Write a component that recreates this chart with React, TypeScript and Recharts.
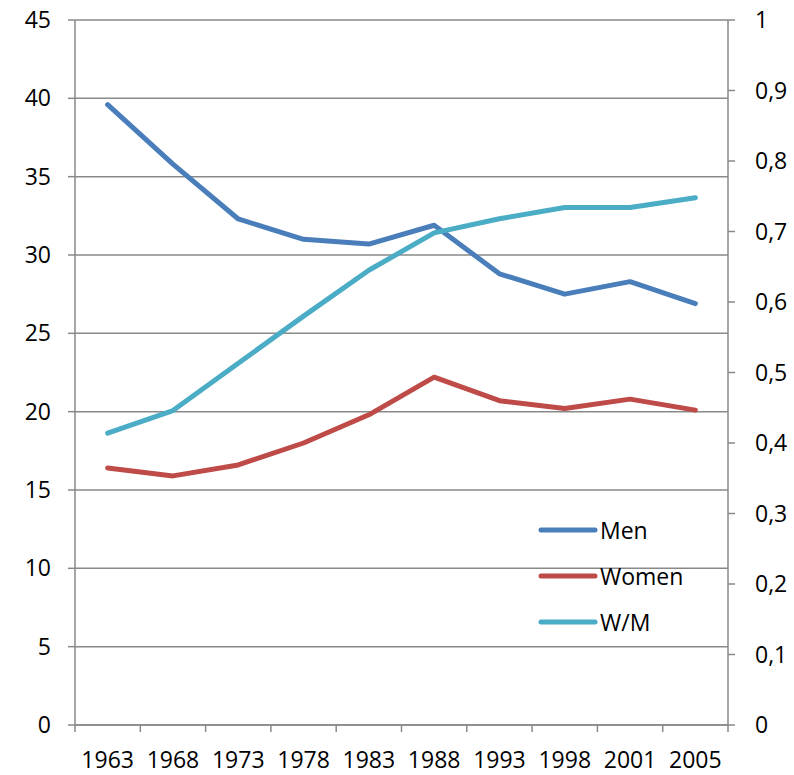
import { ComposedChart, Line, XAxis, YAxis, CartesianGrid } from "recharts"

const years = ["1963", "1968", "1973", "1978", "1983", "1988", "1993", "1998", "2001", "2005"]
const men = [39.6, 35.8, 32.3, 31.0, 30.7, 31.9, 28.8, 27.5, 28.3, 26.9]
const women = [16.4, 15.9, 16.6, 18.0, 19.8, 22.2, 20.7, 20.2, 20.8, 20.1]
const ratio = [0.414, 0.446, 0.513, 0.58, 0.645, 0.698, 0.718, 0.734, 0.734, 0.748]

const leftTicks = [0, 5, 10, 15, 20, 25, 30, 35, 40, 45]
const rightTicks = [0, 0.1, 0.2, 0.3, 0.4, 0.5, 0.6, 0.7, 0.8, 0.9, 1]

const SERIES = [
  { key: "men", name: "Men", color: "#4a7ebb" },
  { key: "women", name: "Women", color: "#be4b48" },
  { key: "wm", name: "W/M", color: "#4bacc6" },
]

const data = years.map((year, i) => ({
  year,
  men: men[i],
  women: women[i],
  wm: ratio[i],
}))

const W = 794
const H = 775
const LEFT_W = 75
const RIGHT_W = 66
const BAND = (W - LEFT_W - RIGHT_W) / years.length

const FONT = "'Open Sans', sans-serif"
const GRAY = "#898989"
const tickStyle = { fill: "#000", fontSize: 23, fontFamily: FONT }

// category label in the middle, tick mark on the band edges (Excel style)
function YearTick(props: any) {
  const { x, y, payload, index } = props
  const top = y - 27
  return (
    <g>
      <line x1={x - BAND / 2} y1={top} x2={x - BAND / 2} y2={top + 7} stroke={GRAY} strokeWidth={1.5} />
      {index === years.length - 1 && (
        <line x1={x + BAND / 2} y1={top} x2={x + BAND / 2} y2={top + 7} stroke={GRAY} strokeWidth={1.5} />
      )}
      <text x={x} y={y} dy="0.71em" textAnchor="middle" {...tickStyle}>
        {payload.value}
      </text>
    </g>
  )
}

function LegendBox() {
  return (
    <div style={{ position: "absolute", left: 538, top: 507, fontFamily: FONT, fontSize: 23, color: "#000" }}>
      {SERIES.map((s) => (
        <div key={s.key} style={{ display: "flex", alignItems: "center", height: 46 }}>
          <svg width={60} height={10} style={{ marginRight: 2 }}>
            <line x1={3} y1={5} x2={57} y2={5} stroke={s.color} strokeWidth={5} strokeLinecap="round" />
          </svg>
          <span>{s.name}</span>
        </div>
      ))}
    </div>
  )
}

export default function App() {
  return (
    <div style={{ position: "relative", width: W, height: H, background: "#fff" }}>
      <style>{`body{margin:0}`}</style>
      <ComposedChart width={W} height={H} data={data} margin={{ top: 20, right: 0, bottom: 0, left: 0 }}>
        <CartesianGrid vertical={false} stroke={GRAY} strokeWidth={1.5} />
        <XAxis
          dataKey="year"
          scale="band"
          height={50}
          tickSize={7}
          tickMargin={20}
          tickLine={{ stroke: "none" }}
          axisLine={{ stroke: GRAY, strokeWidth: 1.5 }}
          tick={<YearTick />}
          interval={0}
        />
        <YAxis
          domain={[0, 45]}
          ticks={leftTicks}
          width={LEFT_W}
          tickSize={7}
          tickMargin={17}
          axisLine={{ stroke: GRAY, strokeWidth: 1.5 }}
          tickLine={{ stroke: GRAY, strokeWidth: 1.5 }}
          tick={tickStyle}
          interval={0}
        />
        <YAxis
          yAxisId="r"
          orientation="right"
          domain={[0, 1]}
          ticks={rightTicks}
          width={RIGHT_W}
          tickSize={7}
          tickMargin={20}
          axisLine={{ stroke: GRAY, strokeWidth: 1.5 }}
          tickLine={{ stroke: GRAY, strokeWidth: 1.5 }}
          tick={{ ...tickStyle, textAnchor: "start" }}
          tickFormatter={(v: number) => String(Math.round(v * 10) / 10).replace(".", ",")}
          interval={0}
        />
        {SERIES.map((s) => (
          <Line
            key={s.key}
            yAxisId={s.key === "wm" ? "r" : 0}
            dataKey={s.key}
            name={s.name}
            stroke={s.color}
            strokeWidth={5}
            strokeLinecap="round"
            strokeLinejoin="round"
            dot={false}
            isAnimationActive={false}
          />
        ))}
      </ComposedChart>
      <LegendBox />
    </div>
  )
}
